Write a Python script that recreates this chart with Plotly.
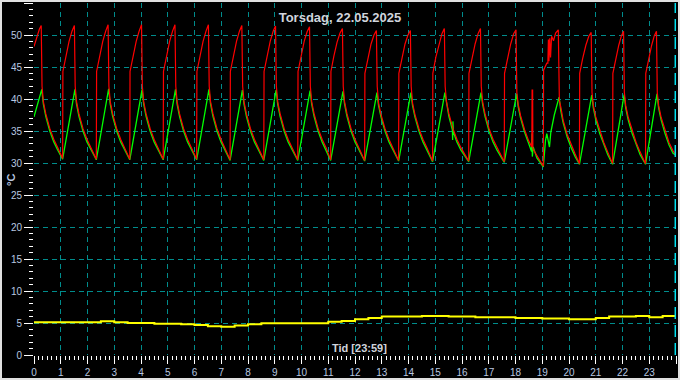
import plotly.graph_objects as go

# ---------------- data (hours, °C) ----------------
red_time = [
    0.00, 0.10, 0.20, 0.27, 0.30, 0.35, 0.44, 0.59, 0.74, 0.89, 1.07,
    1.08, 1.19, 1.31, 1.42, 1.51, 1.54, 1.59, 1.68, 1.83, 1.98, 2.13, 2.33,
    2.34, 2.45, 2.57, 2.68, 2.77, 2.80, 2.85, 2.94, 3.09, 3.24, 3.39, 3.58,
    3.59, 3.70, 3.82, 3.93, 4.02, 4.05, 4.10, 4.19, 4.34, 4.49, 4.64, 4.83,
    4.84, 4.95, 5.07, 5.18, 5.27, 5.30, 5.35, 5.44, 5.59, 5.74, 5.89, 6.08,
    6.09, 6.20, 6.32, 6.43, 6.52, 6.55, 6.60, 6.69, 6.84, 6.99, 7.14, 7.33,
    7.34, 7.45, 7.57, 7.68, 7.77, 7.80, 7.85, 7.94, 8.09, 8.24, 8.39, 8.59,
    8.60, 8.71, 8.83, 8.94, 9.03, 9.06, 9.11, 9.20, 9.35, 9.50, 9.65, 9.86,
    9.87, 9.98, 10.10, 10.21, 10.30, 10.33, 10.38, 10.47, 10.62, 10.77, 10.92, 11.09,
    11.10, 11.21, 11.33, 11.44, 11.53, 11.56, 11.61, 11.70, 11.85, 12.00, 12.15, 12.36,
    12.37, 12.48, 12.60, 12.71, 12.80, 12.83, 12.88, 12.97, 13.12, 13.27, 13.42, 13.63,
    13.64, 13.75, 13.87, 13.98, 14.07, 14.10, 14.15, 14.24, 14.39, 14.54, 14.69, 14.90,
    14.91, 15.02, 15.14, 15.25, 15.34, 15.37, 15.42, 15.51, 15.66, 15.81, 15.96, 16.25,
    16.26, 16.37, 16.49, 16.60, 16.69, 16.72, 16.77, 16.86, 17.01, 17.16, 17.31, 17.58,
    17.59, 17.70, 17.82, 17.93, 18.02, 18.05, 18.10, 18.19, 18.34, 18.49, 18.61, 18.62,
    18.64, 18.65, 18.80, 19.04,
    19.05, 19.17, 19.21, 19.23, 19.25, 19.28, 19.31, 19.35, 19.42, 19.50, 19.60, 19.64,
    19.70, 19.78, 19.93, 20.08, 20.23, 20.39,
    20.40, 20.51, 20.63, 20.74, 20.83, 20.86, 20.91, 21.00, 21.15, 21.30, 21.45, 21.63,
    21.64, 21.75, 21.86, 21.96, 22.04, 22.07, 22.12, 22.21, 22.36, 22.51, 22.66, 22.86,
    22.87, 22.98, 23.09, 23.19, 23.27, 23.30, 23.35, 23.44, 23.59, 23.74, 23.89, 24.00,
]
red_temp = [
    48.2, 49.6, 50.9, 51.5, 42.0, 39.6, 37.7, 35.4, 33.7, 32.4, 30.7,
    44.3, 46.8, 49.0, 50.6, 51.5, 42.0, 39.6, 37.7, 35.4, 33.7, 32.4, 30.6,
    44.3, 46.8, 49.0, 50.6, 51.6, 42.0, 39.6, 37.7, 35.4, 33.7, 32.4, 30.6,
    44.3, 46.8, 49.0, 50.6, 51.6, 42.0, 39.6, 37.7, 35.4, 33.7, 32.4, 30.6,
    44.3, 46.8, 49.0, 50.6, 51.6, 42.0, 39.6, 37.7, 35.4, 33.7, 32.4, 30.6,
    44.3, 46.8, 49.0, 50.6, 51.6, 42.0, 39.6, 37.7, 35.4, 33.7, 32.4, 30.5,
    44.3, 46.8, 49.0, 50.6, 51.5, 42.0, 39.6, 37.7, 35.4, 33.7, 32.4, 30.5,
    44.3, 46.8, 49.0, 50.6, 51.4, 42.0, 39.6, 37.7, 35.4, 33.7, 32.4, 30.5,
    44.3, 46.8, 49.0, 50.5, 51.3, 42.0, 39.6, 37.7, 35.4, 33.7, 32.4, 30.5,
    44.3, 46.7, 48.9, 50.3, 51.0, 42.0, 39.6, 37.7, 35.4, 33.7, 32.4, 30.4,
    44.0, 46.5, 48.6, 50.0, 50.7, 42.0, 39.4, 37.6, 35.4, 33.7, 32.4, 30.4,
    44.0, 46.5, 48.6, 50.0, 50.7, 42.0, 39.4, 37.6, 35.4, 33.7, 32.4, 30.3,
    44.0, 46.5, 48.6, 50.2, 51.0, 42.0, 39.6, 37.7, 35.4, 33.7, 32.4, 30.3,
    44.0, 46.5, 48.6, 50.2, 51.0, 42.0, 39.6, 37.7, 35.4, 33.7, 32.4, 30.2,
    44.0, 46.5, 48.6, 50.2, 50.8, 41.0, 39.2, 37.4, 35.2, 33.5, 32.5, 41.4,
    41.4, 32.2, 31.2, 29.5,
    44.5, 45.6, 45.6, 49.3, 45.9, 49.5, 46.5, 49.8, 49.1, 50.3, 50.8, 39.8,
    38.6, 36.7, 34.5, 32.8, 31.4, 29.9,
    44.0, 46.3, 48.4, 49.8, 50.4, 41.0, 39.0, 37.2, 35.0, 33.2, 31.7, 29.9,
    44.0, 46.3, 48.4, 49.9, 50.6, 41.0, 39.0, 37.2, 35.0, 33.2, 31.7, 29.9,
    44.0, 46.3, 48.4, 49.9, 50.6, 41.0, 39.0, 37.2, 35.0, 33.2, 31.9, 31.3,
]

green_time = [
    0.00, 0.15, 0.29, 0.35, 0.44, 0.59, 0.74, 0.89, 1.07,
    1.53, 1.59, 1.68, 1.83, 1.98, 2.13, 2.33,
    2.79, 2.85, 2.94, 3.09, 3.24, 3.39, 3.58,
    4.04, 4.10, 4.19, 4.34, 4.49, 4.64, 4.83,
    5.29, 5.35, 5.44, 5.59, 5.74, 5.89, 6.08,
    6.54, 6.60, 6.69, 6.84, 6.99, 7.14, 7.33,
    7.79, 7.85, 7.94, 8.09, 8.24, 8.39, 8.59,
    9.05, 9.11, 9.20, 9.35, 9.50, 9.65, 9.86,
    10.32, 10.38, 10.47, 10.62, 10.77, 10.92, 11.09,
    11.55, 11.61, 11.70, 11.85, 12.00, 12.15, 12.36,
    12.82, 12.88, 12.97, 13.12, 13.27, 13.42, 13.63,
    14.09, 14.15, 14.24, 14.39, 14.54, 14.69, 14.90,
    15.36, 15.42, 15.51, 15.64, 15.65, 15.66, 15.68, 15.81, 15.96, 16.25,
    16.71, 16.77, 16.86, 17.01, 17.16, 17.31, 17.58,
    18.04, 18.10, 18.19, 18.34, 18.49, 18.60, 18.62, 18.63, 18.66, 18.80, 19.04,
    19.12, 19.17, 19.22, 19.27, 19.32, 19.45, 19.63, 19.69, 19.78, 19.93, 20.08, 20.23, 20.39,
    20.85, 20.91, 21.00, 21.15, 21.30, 21.45, 21.63,
    22.06, 22.12, 22.21, 22.36, 22.51, 22.66, 22.86,
    23.29, 23.35, 23.44, 23.59, 23.74, 23.89, 24.00,
]
green_temp = [
    37.2, 39.5, 41.5, 39.2, 37.3, 35.0, 33.3, 32.0, 30.6,
    41.5, 39.2, 37.3, 35.0, 33.3, 32.0, 30.5,
    41.6, 39.2, 37.3, 35.0, 33.3, 32.0, 30.5,
    41.5, 39.2, 37.3, 35.0, 33.3, 32.0, 30.5,
    41.5, 39.2, 37.3, 35.0, 33.3, 32.0, 30.5,
    41.5, 39.2, 37.3, 35.0, 33.3, 32.0, 30.4,
    41.4, 39.2, 37.3, 35.0, 33.3, 32.0, 30.4,
    41.4, 39.2, 37.3, 35.0, 33.3, 32.0, 30.4,
    41.3, 39.2, 37.3, 35.0, 33.3, 32.0, 30.4,
    41.2, 39.2, 37.3, 35.0, 33.3, 32.0, 30.3,
    41.0, 39.0, 37.2, 35.0, 33.3, 32.0, 30.3,
    41.0, 39.0, 37.2, 35.0, 33.3, 32.0, 30.2,
    41.0, 39.2, 37.3, 35.2, 33.6, 36.5, 34.8, 33.3, 32.0, 30.2,
    41.0, 39.2, 37.3, 35.0, 33.3, 32.0, 30.1,
    40.8, 38.8, 37.0, 34.8, 33.1, 31.8, 34.6, 31.0, 32.5, 30.8, 29.4,
    33.5, 34.6, 33.4, 32.5, 34.8, 37.5, 40.3, 38.2, 36.3, 34.1, 32.4, 31.0, 29.8,
    40.6, 38.6, 36.8, 34.6, 32.8, 31.3, 29.8,
    40.7, 38.6, 36.8, 34.6, 32.8, 31.3, 29.8,
    40.8, 38.6, 36.8, 34.6, 32.8, 31.5, 31.2,
]

yellow_time = [
    0.0, 0.5, 1.0, 1.5, 2.0, 2.5, 3.0, 3.5, 4.0, 4.5, 5.0, 5.5, 6.0, 6.5, 7.0, 7.5,
    8.0, 8.5, 9.0, 9.5, 10.0, 10.5, 11.0, 11.5, 12.0, 12.5, 13.0, 13.5, 14.0, 14.5,
    15.0, 15.5, 16.0, 16.5, 17.0, 17.5, 18.0, 18.5, 19.0, 19.5, 20.0, 20.5, 21.0,
    21.5, 22.0, 22.5, 23.0, 23.5, 24.0,
]
yellow_temp = [
    5.1, 5.1, 5.1, 5.1, 5.1, 5.27, 5.1, 5.0, 5.0, 4.9, 4.9, 4.8, 4.7, 4.5, 4.4, 4.6,
    4.8, 4.95, 4.95, 4.95, 4.95, 4.95, 5.2, 5.3, 5.6, 5.8, 6.0, 6.0, 6.0, 6.1,
    6.1, 6.0, 6.0, 5.9, 5.9, 5.9, 5.8, 5.8, 5.7, 5.7, 5.6, 5.6, 5.8,
    6.0, 6.0, 6.1, 5.9, 6.1, 6.1,
]

x_ticks = list(range(0, 25))
y_ticks = list(range(0, 56, 5))
title_text = "Torsdag, 22.05.2025"
x_label = "Tid [23:59]"
y_label = "°C"
cursor_time = 23 + 59 / 60

# ---------------- figure ----------------
W, H = 680, 380
ML, MR, MT, MB = 34, 4, 3, 25
PW, PH = W - ML - MR, H - MT - MB

label_col = "#b8c8e0"
grid_col = "#008c8c"
font_fam = "Liberation Sans, Arial, sans-serif"

fig = go.Figure()
fig.add_trace(go.Scatter(x=yellow_time, y=yellow_temp, mode="lines",
                         line=dict(color="#ffff00", width=2, shape="hv"),
                         hoverinfo="skip", showlegend=False))
fig.add_trace(go.Scatter(x=green_time, y=green_temp, mode="lines",
                         line=dict(color="#00ff00", width=1.3),
                         hoverinfo="skip", showlegend=False))
fig.add_trace(go.Scatter(x=red_time, y=red_temp, mode="lines",
                         line=dict(color="#ff0000", width=1.2),
                         hoverinfo="skip", showlegend=False))

axis_common = dict(
    showgrid=True, gridcolor=grid_col, gridwidth=1, griddash="5px,4px",
    zeroline=False, showline=True, linecolor="#000000", linewidth=1,
    ticks="outside", tickcolor="#ffffff", tickwidth=1,
    tickfont=dict(family=font_fam, size=10, color=label_col),
)

fig.update_xaxes(range=[0, 24], tickvals=x_ticks, ticktext=[str(v) for v in x_ticks],
                 ticklen=8,
                 minor=dict(ticks="outside", dtick=1 / 6, tick0=0, ticklen=4,
                            tickcolor="#ffffff", tickwidth=1, showgrid=False),
                 **axis_common)
fig.update_yaxes(range=[0, 55], tickvals=y_ticks, ticktext=[str(v) for v in y_ticks],
                 ticklen=9,
                 minor=dict(ticks="outside", dtick=1, tick0=0, ticklen=4,
                            tickcolor="#ffffff", tickwidth=1, showgrid=False),
                 **axis_common)

fig.update_layout(
    width=W, height=H, autosize=False,
    margin=dict(l=ML, r=MR, t=MT, b=MB, pad=0),
    paper_bgcolor="#000000", plot_bgcolor="#000000",
    title=dict(text=title_text, x=0.5, xanchor="center",
               y=1 - 17 / H, yanchor="middle",
               font=dict(family=font_fam, size=13, color="#d0d4dc", weight="bold")),
    showlegend=False,
)

# cursor marker at end of day
fig.add_shape(type="line", xref="x", yref="paper", x0=cursor_time, x1=cursor_time,
              y0=0, y1=1, line=dict(color="#00e0f0", width=2, dash="12px,6px"))

# x label inside plot, y label rotated
fig.add_annotation(text=x_label, xref="paper", yref="paper", x=(359 - ML) / PW, y=7 / PH,
                   showarrow=False, xanchor="center", yanchor="middle",
                   font=dict(family=font_fam, size=11, color="#d0d4dc", weight="bold"))
fig.add_annotation(text=y_label, xref="paper", yref="paper", x=(11 - ML) / PW,
                   y=(PH + MT - 180) / PH, showarrow=False, textangle=-90,
                   xanchor="center", yanchor="middle",
                   font=dict(family=font_fam, size=11, color=label_col, weight="bold"))

# outer frame
fig.add_shape(type="rect", xref="paper", yref="paper",
              x0=-ML / PW, x1=1 + MR / PW, y0=-MB / PH, y1=1 + MT / PH,
              line=dict(color="#e0e0e0", width=4), layer="above")

fig.write_html("out.html")
